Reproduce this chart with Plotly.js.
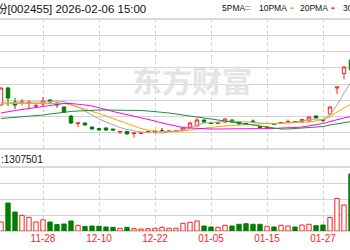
<!DOCTYPE html>
<html>
<head>
<meta charset="utf-8">
<script src="https://cdn.plot.ly/plotly-3.0.1.min.js"></script>
<style>html,body{margin:0;padding:0;background:#fff}#chart{width:350px;height:250px}</style>
</head>
<body>
<div id="chart"></div>
<script>
const dates = ['11-20','11-21','11-24','11-25','11-26','11-27','11-28','12-01','12-02','12-03','12-04','12-05','12-08','12-09','12-10','12-11','12-12','12-15','12-16','12-17','12-18','12-19','12-22','12-23','12-24','12-25','12-26','12-29','12-30','12-31','01-05','01-06','01-07','01-08','01-09','01-12','01-13','01-14','01-15','01-16','01-19','01-20','01-21','01-22','01-23','01-26','01-27','01-28','01-29','01-30','02-02'];
const openP  = [9.5,11.2,9.8,9.8,9.7,9.4,9.6,10.0,9.7,9.3,8.4,7.65,7.7,7.3,7.15,7.2,7.1,6.8,6.85,6.65,6.65,6.75,6.8,6.9,6.85,6.85,7.0,7.3,7.4,8.0,7.75,7.65,7.8,8.0,7.8,7.65,7.9,7.35,7.25,7.6,7.7,7.8,7.85,7.8,7.9,8.4,8.05,8.6,11.2,12.65,14.0];
const highP  = [11.25,11.3,10.2,10.1,10.0,9.6,10.3,10.05,9.75,9.35,8.5,7.7,7.75,7.35,7.2,7.25,7.1,6.88,6.9,6.72,6.75,6.9,6.9,7.2,6.92,6.95,7.25,7.8,8.2,8.05,7.8,7.75,8.15,8.05,7.85,7.7,8.05,7.4,7.35,7.65,7.8,8.05,7.9,8.1,8.35,8.45,8.1,9.35,11.3,13.35,14.2];
const lowP   = [9.45,9.4,9.1,9.5,9.2,9.2,9.3,9.75,9.2,8.75,7.6,7.3,7.45,7.05,6.95,6.9,6.95,6.6,6.55,6.25,6.6,6.7,6.75,6.9,6.82,6.8,6.95,7.25,7.4,7.75,7.6,7.6,7.75,7.75,7.55,7.5,7.83,7.2,7.2,7.5,7.65,7.8,7.75,7.75,7.85,8.15,7.8,8.55,10.6,12.05,12.9];
const closeP = [11.2,10.2,9.5,9.85,9.71,9.41,9.9,9.8,9.5,8.8,7.7,7.7,7.5,7.1,7.0,7.0,7.0,6.85,6.6,6.7,6.7,6.85,6.85,6.9,6.9,6.9,7.2,7.7,8.0,7.8,7.65,7.7,8.1,7.8,7.6,7.55,7.85,7.25,7.3,7.55,7.75,7.85,7.8,8.05,8.3,8.2,7.95,9.3,11.3,13.3,13.0];
const volume = [225000,700000,475000,390000,340000,225000,280000,225000,160000,175000,250000,140000,115000,125000,118000,100000,92000,68000,92000,58000,50000,58000,68000,92000,68000,68000,192000,218000,250000,125000,100000,92000,142000,125000,168000,182000,168000,168000,118000,100000,142000,125000,100000,150000,168000,132000,150000,338000,812000,650000,1425000];
const ma5  = [9.70,9.70,9.75,9.80,9.80,9.75,9.80,9.85,9.90,9.85,9.60,9.30,8.90,8.50,8.10,7.80,7.50,7.25,7.05,6.90,6.80,6.75,6.70,6.70,6.80,6.90,7.00,7.20,7.50,7.70,7.75,7.80,7.85,7.90,7.85,7.80,7.80,7.70,7.65,7.60,7.65,7.70,7.80,7.90,8.05,8.10,8.05,8.50,9.50,10.70,11.80];
const ma10 = [9.60,9.65,9.65,9.65,9.65,9.65,9.70,9.70,9.70,9.65,9.50,9.30,9.10,8.90,8.65,8.40,8.15,7.90,7.65,7.40,7.15,7.00,6.90,6.85,6.85,6.85,6.90,7.00,7.10,7.20,7.30,7.35,7.40,7.45,7.50,7.55,7.60,7.60,7.65,7.65,7.65,7.70,7.75,7.75,7.80,7.90,8.05,8.30,8.80,9.20,9.60];
const ma20 = [8.70,8.85,8.95,9.05,9.15,9.25,9.35,9.45,9.55,9.65,9.65,9.60,9.50,9.40,9.25,9.05,8.85,8.70,8.55,8.40,8.25,8.05,7.90,7.70,7.55,7.40,7.25,7.20,7.15,7.10,7.10,7.10,7.10,7.15,7.15,7.15,7.15,7.15,7.15,7.15,7.20,7.20,7.25,7.30,7.40,7.50,7.65,7.85,8.05,8.20,8.35];
const ma30 = [8.15,8.20,8.25,8.35,8.40,8.45,8.50,8.60,8.70,8.75,8.85,8.90,8.95,9.00,9.00,9.00,9.00,8.95,8.95,8.95,8.95,8.90,8.85,8.80,8.70,8.60,8.50,8.40,8.30,8.20,8.10,8.00,7.95,7.85,7.75,7.60,7.50,7.40,7.30,7.20,7.10,7.10,7.15,7.20,7.25,7.30,7.35,7.50,7.60,7.70,7.85];
const tickDates = ['11-28','12-10','12-22','01-05','01-15','01-27'];
const legendNames = ['5PMA','10PMA','20PMA','30PMA'];
const headerText = '份[002455] 2026-02-06 15:00';
const volumeText = ':1307501';
const watermark = '东方财富';

const RED = '#ff1e1e', GREEN = '#007f00', FLAT = '#333333';
const MA_COLORS = ['#a6a6a6', '#ffa500', '#ff00ff', '#1f8f3f'];

function pick(cond) {
  const idx = dates.map((d, i) => i).filter(i => cond(openP[i], closeP[i]));
  return {
    x: idx.map(i => dates[i]),
    open: idx.map(i => openP[i]), high: idx.map(i => highP[i]),
    low: idx.map(i => lowP[i]), close: idx.map(i => closeP[i])
  };
}
function candle(sub, color, fill) {
  return Object.assign({
    type: 'candlestick', xaxis: 'x', yaxis: 'y', hoverinfo: 'skip',
    increasing: {line: {color: color, width: 1}, fillcolor: fill},
    decreasing: {line: {color: color, width: 1}, fillcolor: fill}
  }, sub);
}

const traces = [];
const volUp = dates.map((d, i) => closeP[i] >= openP[i]);
traces.push({
  type: 'bar', x: dates, y: volume, xaxis: 'x', yaxis: 'y2', width: 0.62, hoverinfo: 'skip',
  marker: {color: volUp.map(u => u ? '#ffffff' : GREEN), line: {color: volUp.map(u => u ? RED : GREEN), width: 1}}
});
[ma5, ma10, ma20, ma30].forEach((m, k) => {
  traces.push({type: 'scatter', mode: 'lines', x: dates, y: m, xaxis: 'x', yaxis: 'y',
    line: {color: MA_COLORS[k], width: 1}, hoverinfo: 'skip'});
});
traces.push(candle(pick((o, c) => c > o), RED, '#ffffff'));
traces.push(candle(pick((o, c) => c < o), GREEN, GREEN));
traces.push(candle(pick((o, c) => c === o), FLAT, FLAT));

const H = 250, W = 350;
const py = y => 1 - y / H;
const px = x => x / W;
const border = '#b4b4b4';
const hline = y => ({type: 'line', xref: 'paper', yref: 'paper', x0: 0, x1: 1, y0: py(y), y1: py(y), line: {color: border, width: 1}, layer: 'below'});

const legendX = [220, 257, 298, 341];
const swatchX = [243, 288, 329];
const annotations = [
  {text: headerText, xref: 'paper', yref: 'paper', x: px(-6), y: py(9), xanchor: 'left', yanchor: 'middle', showarrow: false,
   font: {family: 'Liberation Sans, Noto Sans CJK SC', size: 11.5, color: '#111'}},
  {text: volumeText, xref: 'paper', yref: 'paper', x: px(-1), y: py(159), xanchor: 'left', yanchor: 'middle', showarrow: false,
   font: {family: 'Liberation Sans', size: 10, color: '#111'}},
  {text: watermark, xref: 'paper', yref: 'paper', x: px(192), y: py(79), xanchor: 'center', yanchor: 'middle', showarrow: false,
   font: {family: 'Noto Sans CJK SC', size: 30, color: '#e4e4e4', weight: 'bold'}},
  {text: '11-18', xref: 'paper', yref: 'paper', x: 0, xshift: 2, y: py(241), xanchor: 'right', yanchor: 'middle', showarrow: false,
   font: {family: 'Liberation Sans', size: 10, color: RED}}
];
legendNames.forEach((n, k) => {
  annotations.push({text: n, xref: 'paper', yref: 'paper', x: px(legendX[k]), y: py(8), xanchor: 'left', yanchor: 'middle',
    showarrow: false, font: {family: 'Liberation Sans', size: 8.5, color: '#111'}});
  if (k < 3) {
    annotations.push({text: k === 0 ? '=' : '<b>-</b>', xref: 'paper', yref: 'paper', x: px(swatchX[k]), y: py(8), xanchor: 'left', yanchor: 'middle',
      showarrow: false, font: {family: 'Liberation Sans', size: k === 0 ? 10 : 12, color: MA_COLORS[k]}});
  }
});

const layout = {
  width: W, height: H, margin: {l: 0, r: 0, t: 0, b: 0},
  paper_bgcolor: '#ffffff', plot_bgcolor: '#ffffff', showlegend: false,
  xaxis: {type: 'category', categoryorder: 'array', categoryarray: dates, range: [-1 / 7, 349 / 7], anchor: 'y2',
    rangeslider: {visible: false}, showgrid: true, gridcolor: '#cccccc', griddash: '3px,3px', gridwidth: 1,
    tickmode: 'array', tickvals: tickDates, ticktext: tickDates, ticks: '', showline: false, zeroline: false,
    tickfont: {family: 'Liberation Sans', size: 10, color: RED}},
  yaxis: {domain: [py(149), py(19)], range: [5.1, 18.1], tick0: 5.1, dtick: 1.625, showticklabels: false,
    ticks: '', gridcolor: '#d4d4d4', zeroline: false, showline: false},
  yaxis2: {domain: [py(231), py(167)], range: [0, 1600000], tick0: 0, dtick: 400000, showticklabels: false,
    ticks: '', gridcolor: '#d4d4d4', zeroline: false, showline: false},
  shapes: [hline(19), hline(149), hline(167), hline(231)],
  annotations: annotations
};

Plotly.newPlot('chart', traces, layout, {staticPlot: true, displayModeBar: false});
</script>
</body>
</html>
